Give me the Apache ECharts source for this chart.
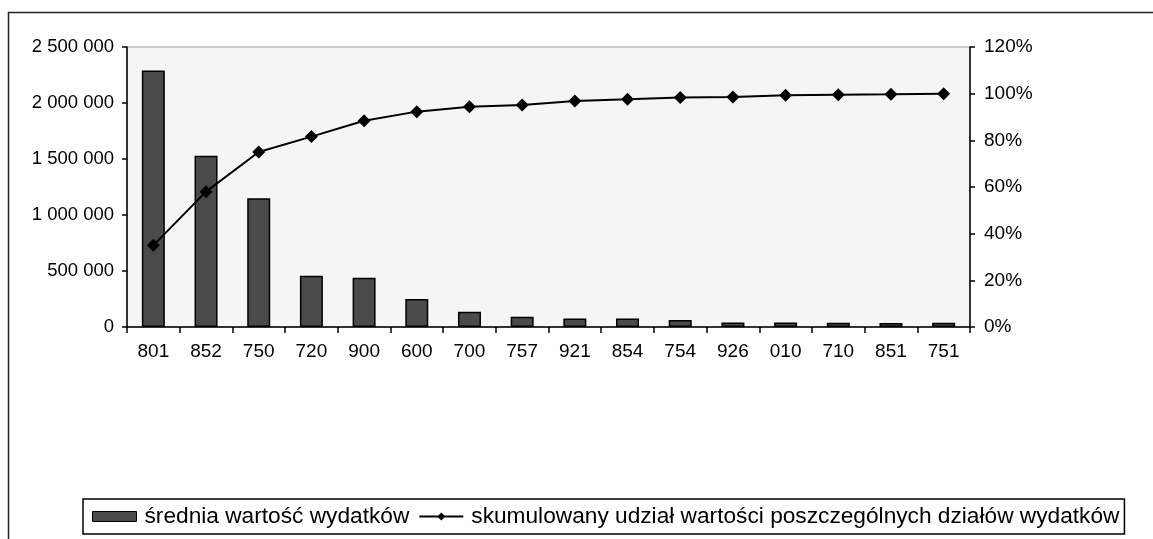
<!DOCTYPE html>
<html>
<head>
<meta charset="utf-8">
<script src="https://cdn.jsdelivr.net/npm/echarts@6/dist/echarts.min.js"></script>
<style>html,body{margin:0;padding:0;background:#fff}#c{width:1153px;height:539px}</style>
</head>
<body>
<div id="c"></div>
<script>
const categories = ['801','852','750','720','900','600','700','757','921','854','754','926','010','710','851','751'];
const avgSpending = [2290000,1530000,1150000,458000,440000,250000,137000,92000,76000,76000,62000,40000,40000,38000,36000,38000];
const cumulativeShare = [0.35,0.58,0.75,0.816,0.884,0.923,0.944,0.951,0.969,0.976,0.984,0.986,0.993,0.995,0.997,1.0];
const barName = 'średnia wartość wydatków';
const lineName = 'skumulowany udział wartości poszczególnych działów wydatków';

const FONT = '"Liberation Sans", Arial, sans-serif';
const chart = echarts.init(document.getElementById('c'), null, {renderer: 'canvas'});
function fmtThousands(v){
  return String(v).replace(/\B(?=(\d{3})+(?!\d))/g, ' ');
}
chart.setOption({
  animation: false,
  backgroundColor: '#fff',
  textStyle: {fontFamily: FONT, color: '#000'},
  graphic: [{
    type: 'rect', silent: true,
    shape: {x: 8.5, y: 12.5, width: 1160, height: 540},
    style: {fill: 'none', stroke: '#222', lineWidth: 1.5}
  }],
  grid: {
    left: 127, right: 183, top: 47, bottom: 212,
    show: true, backgroundColor: '#f5f5f5', borderColor: '#999', borderWidth: 1,
    containLabel: false
  },
  legend: {
    left: 83, top: 499,
    orient: 'horizontal',
    itemGap: 9,
    itemWidth: 44, itemHeight: 10,
    borderColor: '#000', borderWidth: 1.5,
    padding: [6, 5, 6, 9],
    textStyle: {fontFamily: FONT, fontSize: 22.7, color: '#000', padding: [0, 0, 0, 3]},
    data: [
      {name: barName, icon: 'rect', itemStyle: {color: '#4a4a4a', borderColor: '#000', borderWidth: 1}},
      {name: lineName}
    ]
  },
  xAxis: {
    type: 'category',
    data: categories,
    boundaryGap: true,
    axisLine: {show: true, lineStyle: {color: '#000', width: 1.5}},
    axisTick: {show: true, length: 6, lineStyle: {color: '#000', width: 1.5}},
    axisLabel: {fontFamily: FONT, fontSize: 19, color: '#000', margin: 15},
    splitLine: {show: false}
  },
  yAxis: [{
    type: 'value', min: 0, max: 2500000, interval: 500000,
    axisLine: {show: true, lineStyle: {color: '#000', width: 1.5}},
    axisTick: {show: true, length: 5, lineStyle: {color: '#000', width: 1.5}},
    axisLabel: {fontFamily: FONT, fontSize: 18.5, color: '#000', margin: 13, formatter: fmtThousands},
    splitLine: {show: false}
  }, {
    type: 'value', min: 0, max: 1.2, interval: 0.2,
    position: 'right',
    axisLine: {show: true, lineStyle: {color: '#000', width: 1.5}},
    axisTick: {show: true, length: 5, lineStyle: {color: '#000', width: 1.5}},
    axisLabel: {fontFamily: FONT, fontSize: 19, color: '#000', margin: 14,
      formatter: v => Math.round(v * 100) + '%'},
    splitLine: {show: false}
  }],
  series: [{
    name: barName,
    type: 'bar',
    yAxisIndex: 0,
    data: avgSpending,
    barWidth: 23,
    itemStyle: {color: '#4a4a4a', borderColor: '#000', borderWidth: 1.5},
    z: 2
  }, {
    name: lineName,
    type: 'line',
    yAxisIndex: 1,
    data: cumulativeShare,
    symbol: 'diamond',
    symbolSize: 13,
    lineStyle: {color: '#000', width: 2},
    itemStyle: {color: '#000'},
    z: 3
  }]
});
</script>
</body>
</html>
